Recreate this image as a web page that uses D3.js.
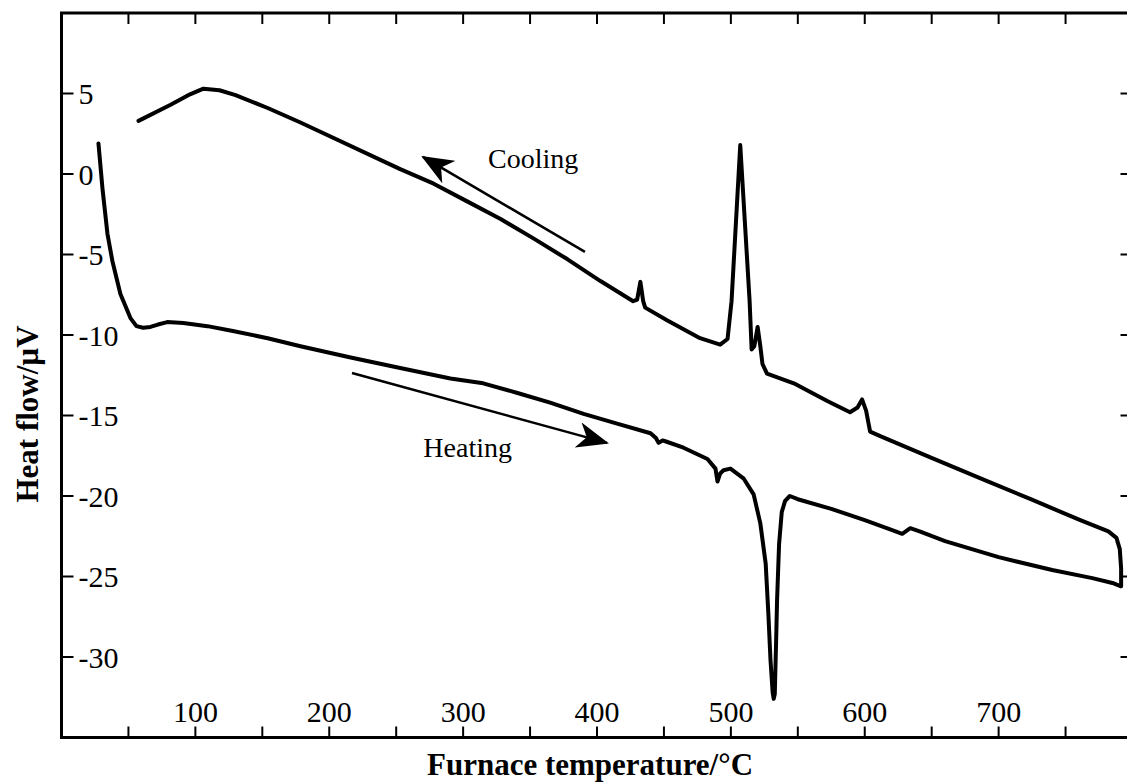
<!DOCTYPE html>
<html><head><meta charset="utf-8">
<script src="https://cdn.jsdelivr.net/npm/d3@7"></script>
<style>
html,body{margin:0;padding:0;background:#fff;}
svg{display:block;}
text{font-family:"Liberation Serif","Times New Roman",serif;fill:#000;}
</style></head>
<body>
<svg id="chart" width="1127" height="783"></svg>
<script>
// Data (furnace temperature °C, heat flow µV)
const heatingT = [27.6,30.6,34.3,38.0,44.0,51.5,56.0,61.0,66.4,72,79,91,109,128,154,178.5,216,253,290.5,315,340.6,365,390,415,440,444,446,449,451,464.6,482.5,488.5,490,492,494.5,499.7,509.4,517,522,526,528,529.6,531.2,532,532.8,533.8,534.5,536,538,540.5,544,550,575,600,620,628,634,641,660,700,740,770,785,791];
const heatingV = [1.9,-0.9,-3.7,-5.4,-7.45,-8.95,-9.45,-9.55,-9.5,-9.35,-9.2,-9.25,-9.45,-9.75,-10.2,-10.7,-11.4,-12.05,-12.7,-13.0,-13.6,-14.2,-14.9,-15.5,-16.1,-16.4,-16.7,-16.55,-16.6,-17.0,-17.7,-18.3,-19.1,-18.6,-18.4,-18.3,-18.9,-19.9,-21.7,-24.2,-27.3,-30.2,-32.2,-32.6,-32.3,-29,-26.5,-23.0,-21.0,-20.3,-20.0,-20.2,-20.8,-21.5,-22.1,-22.35,-22.0,-22.2,-22.8,-23.8,-24.6,-25.1,-25.4,-25.6];
const coolingT = [57.5,81.5,96,106,118,130,154,178.5,253,278,303,328,352.5,378,402.6,427,430,432.4,434.5,436,452.6,477,492,497.5,500.5,507,514,515.5,517.5,520,522,523.6,527,547,572,589,594.6,598,601,604,612,649,686.5,724,761,782,788,790.5,791.5,791.5];
const coolingV = [3.3,4.3,4.95,5.3,5.2,4.9,4.1,3.2,0.3,-0.6,-1.7,-2.8,-4.0,-5.3,-6.65,-7.9,-7.8,-6.7,-7.9,-8.3,-9.1,-10.2,-10.6,-10.25,-7.9,1.8,-7.9,-10.9,-10.7,-9.5,-10.7,-11.8,-12.4,-13.0,-14.1,-14.8,-14.5,-14.0,-14.7,-16.0,-16.3,-17.6,-18.9,-20.2,-21.5,-22.2,-22.6,-23.3,-24.5,-25.6];
const xTickValues = [100,200,300,400,500,600,700];
const xMinorTicks = [50,150,250,350,450,550,650,750];
const yTickValues = [5,0,-5,-10,-15,-20,-25,-30];
const xTitle = "Furnace temperature/°C";
const yTitle = "Heat flow/µV";
const annotations = [
  {label:"Cooling", from:[391,-4.84], to:[270,1.06]},
  {label:"Heating", from:[217,-12.36], to:[407.5,-16.7]}
];

const svg = d3.select("#chart");
const x = d3.scaleLinear().domain([0,800]).range([61.5,1132.5]);
const y = d3.scaleLinear().domain([-35,10]).range([737.5,13]);

const g = svg.append("g");
g.append("rect").attr("x",x(0)).attr("y",y(10)).attr("width",x(800)-x(0)).attr("height",y(-35)-y(10))
  .attr("fill","none").attr("stroke","#000").attr("stroke-width",3);

const allX = xTickValues.concat(xMinorTicks);
g.selectAll(".bt").data(allX).join("line")
  .attr("x1",d=>x(d)).attr("x2",d=>x(d)).attr("y1",y(-35)).attr("y2",y(-35)-11)
  .attr("stroke","#000").attr("stroke-width",2);
g.selectAll(".tt").data(allX).join("line")
  .attr("x1",d=>x(d)).attr("x2",d=>x(d)).attr("y1",y(10)).attr("y2",y(10)+11)
  .attr("stroke","#000").attr("stroke-width",2);
g.selectAll(".lt").data(yTickValues).join("line")
  .attr("x1",x(0)).attr("x2",x(0)+12).attr("y1",d=>y(d)).attr("y2",d=>y(d))
  .attr("stroke","#000").attr("stroke-width",2);
g.selectAll(".rt").data(yTickValues).join("line")
  .attr("x1",x(800)).attr("x2",x(800)-12).attr("y1",d=>y(d)).attr("y2",d=>y(d))
  .attr("stroke","#000").attr("stroke-width",2);

g.selectAll(".xl").data(xTickValues).join("text")
  .attr("x",d=>x(d)).attr("y",722).attr("text-anchor","middle")
  .attr("font-size",30).text(d=>d);
g.selectAll(".yl").data(yTickValues).join("text")
  .attr("x",x(0)+17).attr("y",d=>y(d)).attr("dy","0.35em")
  .attr("font-size",30).text(d=>d);

svg.append("text").attr("x",590).attr("y",775).attr("text-anchor","middle")
  .attr("font-size",31).attr("font-weight","bold").text(xTitle);
svg.append("text").attr("transform","translate(38,414) rotate(-90)").attr("text-anchor","middle")
  .attr("font-size",31).attr("font-weight","bold").text(yTitle);

const line = d3.line().x(d=>x(d[0])).y(d=>y(d[1]));
const heating = d3.zip(heatingT, heatingV);
const cooling = d3.zip(coolingT, coolingV);
[heating, cooling].forEach(data=>{
  svg.append("path").datum(data).attr("d",line)
    .attr("fill","none").attr("stroke","#000").attr("stroke-width",4)
    .attr("stroke-linejoin","round").attr("stroke-linecap","round");
});

svg.append("defs").append("marker").attr("id","ah")
  .attr("viewBox","0 0 32 26").attr("refX",30).attr("refY",13)
  .attr("markerWidth",32).attr("markerHeight",26).attr("markerUnits","userSpaceOnUse")
  .attr("orient","auto")
  .append("path").attr("d","M0,0 L32,13 L0,26 L9,13 Z").attr("fill","#000");
annotations.forEach(a=>{
  svg.append("line").attr("x1",x(a.from[0])).attr("y1",y(a.from[1]))
    .attr("x2",x(a.to[0])).attr("y2",y(a.to[1]))
    .attr("stroke","#000").attr("stroke-width",2.5).attr("marker-end","url(#ah)");
});
svg.append("text").attr("x",488).attr("y",168).attr("font-size",28).text(annotations[0].label);
svg.append("text").attr("x",512).attr("y",457).attr("text-anchor","end").attr("font-size",28).text(annotations[1].label);
</script>
</body></html>
